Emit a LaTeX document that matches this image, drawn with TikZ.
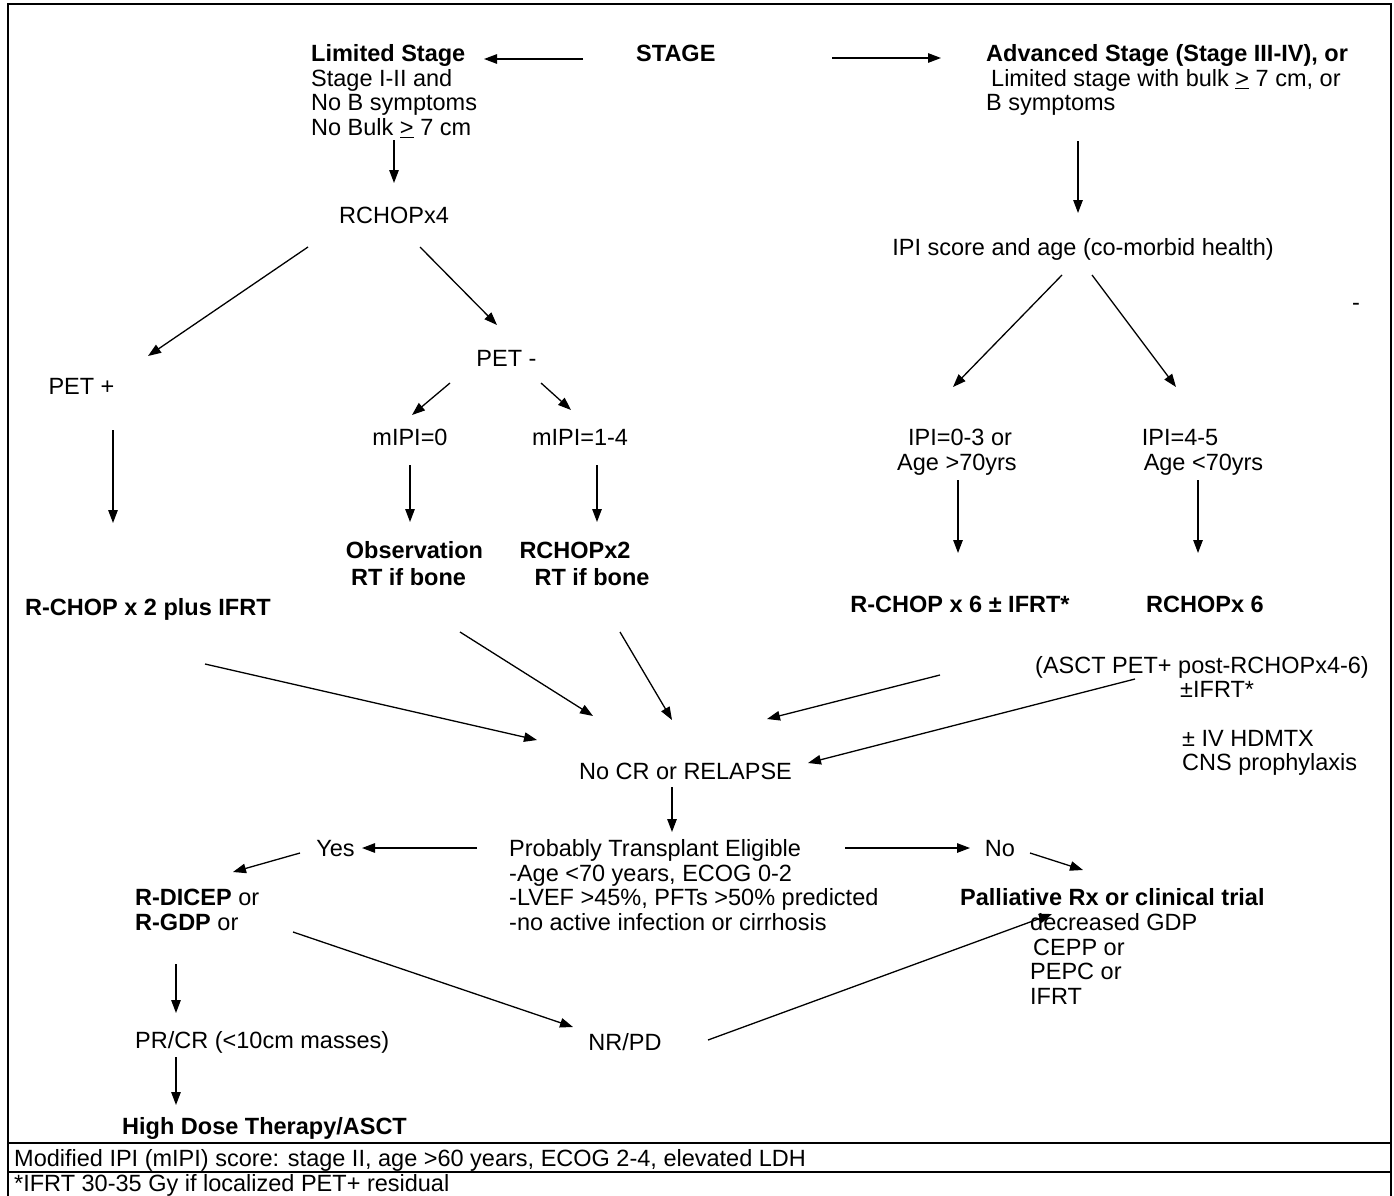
\documentclass[tikz,border=0pt]{standalone}
\usepackage{fontspec}
\setmainfont{Liberation Sans}
\usetikzlibrary{arrows.meta}
\newcommand\fsz{\fontsize{23.5}{24.6}\selectfont}
\newcommand\blk[1]{\begin{tabular}[t]{@{}l@{}}#1\end{tabular}}
\tikzset{
  txt/.style={anchor=base west, inner sep=0pt, font=\fsz},
  btxt/.style={txt, font=\fsz\bfseries},
  ctxt/.style={anchor=base, inner sep=0pt, font=\fsz},
  cbtxt/.style={ctxt, font=\fsz\bfseries},
  arr/.style={-{Triangle[length=13pt,width=9.5pt]}, line width=1.3pt},
  frame/.style={line width=1.8pt}
}
\begin{document}
\begin{tikzpicture}[x=1pt,y=-1pt]
\useasboundingbox (0,0) rectangle (1394,1196);
\fill[white] (0,0) rectangle (1394,1196);
% frame
\draw[frame] (8,1198) -- (8,4) -- (1391,4) -- (1391,1198);
\draw[frame] (8,1143) -- (1391,1143);
\draw[frame] (8,1172) -- (1391,1172);
\node[txt] (foot1) at (14,1166) {Modified IPI (mIPI) score: stage II, age >60 years, ECOG 2-4, elevated LDH};
\node[txt] (foot2) at (14,1191.5) {*IFRT 30-35 Gy if localized PET+ residual};

% top row
\node[btxt] (ls) at (311,61.9) {Limited Stage};
\node[txt] (lsb) at (311,86.4) {\blk{Stage I-II and\\No B symptoms\\No Bulk \underline{>} 7 cm}};
\node[btxt] (stage) at (636,61.9) {STAGE};
\node[btxt] (adv) at (986,61.9) {Advanced Stage (Stage III-IV), or};
\node[txt] (advb) at (986,86.4) {\blk{\hspace*{5pt}Limited stage with bulk \underline{>} 7 cm, or\\B symptoms}};
\coordinate (a1s) at (583,59); \coordinate (a1e) at (484,59);
\coordinate (a2s) at (832,58); \coordinate (a2e) at (941,58);
\draw[arr] (a1s) -- (a1e);
\draw[arr] (a2s) -- (a2e);

% left branch
\coordinate (a3s) at (394,140); \coordinate (a3e) at (394,183);
\draw[arr] (a3s) -- (a3e);
\node[ctxt] (rchop4) at (394,223.4) {RCHOPx4};
\coordinate (a4s) at (308,247); \coordinate (a4e) at (148,356);
\coordinate (a5s) at (420,247); \coordinate (a5e) at (497,325);
\draw[arr] (a4s) -- (a4e);
\draw[arr] (a5s) -- (a5e);
\node[ctxt] (petp) at (81.5,394.4) {PET +};
\node[ctxt] (petm) at (506.5,366.4) {PET -};
\coordinate (a6s) at (450,383); \coordinate (a6e) at (412,415);
\coordinate (a7s) at (541,383); \coordinate (a7e) at (571,410);
\draw[arr] (a6s) -- (a6e);
\draw[arr] (a7s) -- (a7e);
\node[ctxt] (m0) at (410,445.4) {mIPI=0};
\node[ctxt] (m14) at (580,445.4) {mIPI=1-4};
\coordinate (a8s) at (410,465); \coordinate (a8e) at (410,522);
\coordinate (a9s) at (597,465); \coordinate (a9e) at (597,522);
\draw[arr] (a8s) -- (a8e);
\draw[arr] (a9s) -- (a9e);
\node[cbtxt] (obs1) at (414.5,558.4) {Observation};
\node[cbtxt] (obs2) at (408.5,585.4) {RT if bone};
\node[cbtxt] (rc2a) at (575,558.4) {RCHOPx2};
\node[cbtxt] (rc2b) at (592,585.4) {RT if bone};
\coordinate (a10s) at (113,430); \coordinate (a10e) at (113,523);
\draw[arr] (a10s) -- (a10e);
\node[btxt] (rc2ifrt) at (25,615) {R-CHOP x 2 plus IFRT};

% right branch
\coordinate (a11s) at (1078,141); \coordinate (a11e) at (1078,213);
\draw[arr] (a11s) -- (a11e);
\node[ctxt] (ipi) at (1083,255.4) {IPI score and age (co-morbid health)};
\node[txt] (dash) at (1352,310) {-};
\coordinate (a12s) at (1062,275); \coordinate (a12e) at (953,387);
\coordinate (a13s) at (1092,275); \coordinate (a13e) at (1176,387);
\draw[arr] (a12s) -- (a12e);
\draw[arr] (a13s) -- (a13e);
\node[ctxt] (ipi03) at (960,445.4) {IPI=0-3 or};
\node[ctxt] (age1) at (957,470.4) {Age >70yrs};
\node[ctxt] (ipi45) at (1180,445.4) {IPI=4-5};
\node[ctxt] (age2) at (1203.5,470.4) {Age <70yrs};
\coordinate (a14s) at (958,480); \coordinate (a14e) at (958,553);
\coordinate (a15s) at (1198,480); \coordinate (a15e) at (1198,553);
\draw[arr] (a14s) -- (a14e);
\draw[arr] (a15s) -- (a15e);
\node[cbtxt] (rc6) at (960,612.4) {R-CHOP x 6 ± IFRT*};
\node[cbtxt] (rc6b) at (1205,612.4) {RCHOPx 6};
\node[txt] (asct) at (1035,673.4) {(ASCT PET+ post-RCHOPx4-6)};
\node[txt] (ifrt) at (1180,697.4) {±IFRT*};
\node[txt] (hdmtx) at (1182,746.4) {± IV HDMTX};
\node[txt] (cns) at (1182,770.4) {CNS prophylaxis};

% converge
\node[ctxt] (nocr) at (685.5,779) {No CR or RELAPSE};
\coordinate (c1s) at (205,664); \coordinate (c1e) at (537,740);
\coordinate (c2s) at (460,632); \coordinate (c2e) at (593,716);
\coordinate (c3s) at (620,632); \coordinate (c3e) at (672,720);
\coordinate (c4s) at (940,675); \coordinate (c4e) at (767,719);
\coordinate (c5s) at (1135,679); \coordinate (c5e) at (808,763);
\draw[arr] (c1s) -- (c1e);
\draw[arr] (c2s) -- (c2e);
\draw[arr] (c3s) -- (c3e);
\draw[arr] (c4s) -- (c4e);
\draw[arr] (c5s) -- (c5e);
\coordinate (d1s) at (672,787); \coordinate (d1e) at (672,832);
\draw[arr] (d1s) -- (d1e);

% transplant
\node[txt] (pte) at (509,856.4) {\blk{Probably Transplant Eligible\\-Age <70 years, ECOG 0-2\\-LVEF >45\%, PFTs >50\% predicted\\-no active infection or cirrhosis}};
\node[ctxt] (yes) at (335.5,856.4) {Yes};
\node[ctxt] (no) at (1000,856.4) {No};
\coordinate (e1s) at (477,848); \coordinate (e1e) at (362,848);
\coordinate (e2s) at (845,848); \coordinate (e2e) at (970,848);
\coordinate (e3s) at (1030,853); \coordinate (e3e) at (1083,870);
\coordinate (e4s) at (300,853); \coordinate (e4e) at (233,872);
\draw[arr] (e1s) -- (e1e);
\draw[arr] (e2s) -- (e2e);
\draw[arr] (e3s) -- (e3e);
\draw[arr] (e4s) -- (e4e);
\node[txt] (rdicep) at (135,905.4) {\blk{\textbf{R-DICEP} or\\\textbf{R-GDP} or}};
\node[btxt] (pall) at (960,905.4) {Palliative Rx or clinical trial};
\node[txt] (pallb) at (1030,930.4) {\blk{decreased GDP\\\hspace*{3pt}CEPP or\\PEPC or\\IFRT}};
\coordinate (f1s) at (176,964); \coordinate (f1e) at (176,1013);
\draw[arr] (f1s) -- (f1e);
\node[txt] (prcr) at (135,1048.4) {PR/CR (<10cm masses)};
\coordinate (f2s) at (176,1057); \coordinate (f2e) at (176,1105);
\draw[arr] (f2s) -- (f2e);
\node[btxt] (hdt) at (122,1134.4) {High Dose Therapy/ASCT};
\node[ctxt] (nrpd) at (625,1050.4) {NR/PD};
\coordinate (g1s) at (293,932); \coordinate (g1e) at (573,1027);
\coordinate (g2s) at (708,1040); \coordinate (g2e) at (1052,914);
\draw[arr] (g1s) -- (g1e);
\draw[arr] (g2s) -- (g2e);
\end{tikzpicture}
\end{document}
